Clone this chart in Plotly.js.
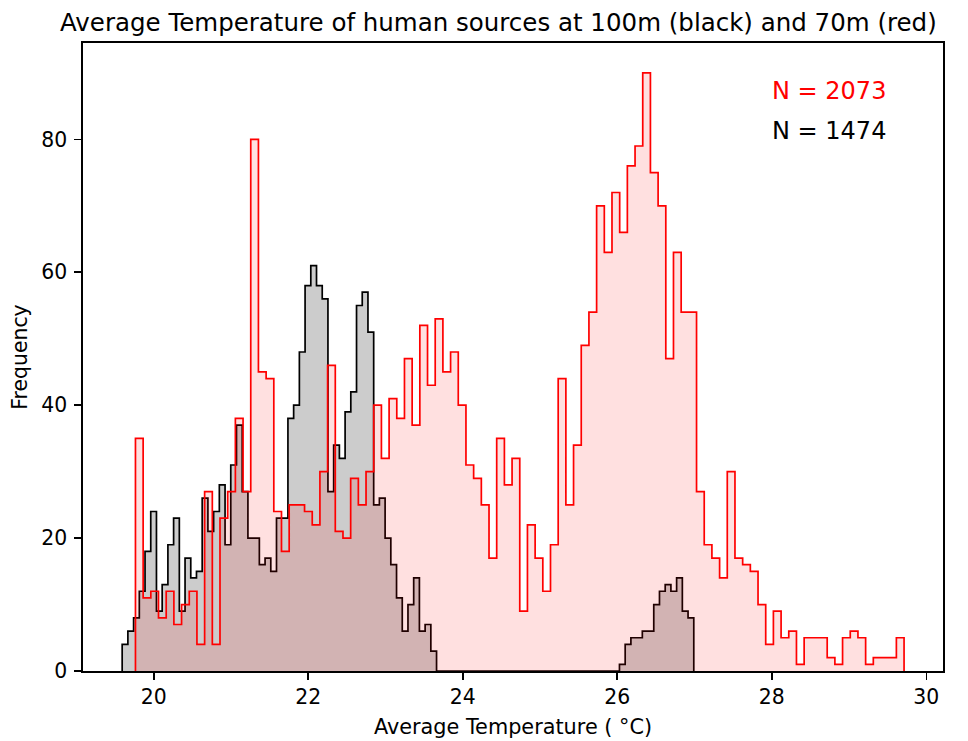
<!DOCTYPE html>
<html><head><meta charset="utf-8">
<script src="https://cdn.plot.ly/plotly-3.0.1.min.js"></script>
<style>html,body{margin:0;padding:0;background:#fff}#chart{width:968px;height:741px}</style>
</head><body><div id="chart"></div>
<script>
// Histogram counts (100 bins each)
const redCounts = [
  35, 11, 12, 8, 12, 7, 10, 12, 4, 27,
  4, 23, 27, 38, 27, 80, 45, 44, 24, 18,
  25, 25, 24, 22, 30, 46, 21, 20, 29, 25,
  30, 40, 32, 41, 38, 47, 37, 52, 43, 53,
  45, 48, 40, 31, 29, 25, 17, 35, 28, 32,
  9, 22, 17, 12, 19, 44, 25, 34, 49, 54,
  70, 63, 72, 66, 76, 79, 90, 75, 70, 47,
  63, 54, 54, 27, 19, 17, 14, 30, 17, 16,
  15, 10, 4, 9, 5, 6, 1, 5, 5, 5,
  2, 1, 5, 6, 5, 1, 2, 2, 2, 5
];
const blackCounts = [
  4, 6, 8, 12, 18, 24, 9, 13, 19, 23,
  9, 17, 14, 15, 26, 21, 24, 28, 19, 31,
  37, 27, 20, 20, 16, 17, 15, 23, 23, 38,
  40, 48, 58, 61, 58, 56, 27, 34, 32, 39,
  42, 55, 57, 51, 25, 26, 20, 16, 11, 6,
  10, 14, 6, 7, 3, 0, 0, 0, 0, 0,
  0, 0, 0, 0, 0, 0, 0, 0, 0, 0,
  0, 0, 0, 0, 0, 0, 0, 0, 0, 0,
  0, 0, 0, 0, 0, 0, 0, 1, 4, 5,
  5, 6, 6, 10, 12, 13, 12, 14, 9, 8
];
// bin range (min, max) of each histogram
const redRange = [19.763, 29.712];
const blackRange = [19.591, 26.990];

const xTicks = [20, 22, 24, 26, 28, 30];
const yTicks = [0, 20, 40, 60, 80];
const titleText = "Average Temperature of human sources at 100m (black) and 70m (red)";
const xLabel = "Average Temperature ( \u00b0C)";
const yLabel = "Frequency";
const redLabel = "N = 2073";
const blackLabel = "N = 1474";

function stepXY(counts, range) {
  const n = counts.length, w = (range[1] - range[0]) / n;
  const xs = [range[0]], ys = [0];
  for (let i = 0; i < n; i++) { xs.push(range[0] + i * w); ys.push(counts[i]); }
  xs.push(range[1]); ys.push(0);
  return {xs, ys};
}

const b = stepXY(blackCounts, blackRange);
const r = stepXY(redCounts, redRange);

const traces = [
  {x: b.xs, y: b.ys, type: 'scatter', mode: 'lines', line: {shape: 'hv', color: '#000000', width: 1.7},
   fill: 'tozeroy', fillcolor: 'rgba(0,0,0,0.2)', hoverinfo: 'skip', showlegend: false},
  {x: r.xs, y: r.ys, type: 'scatter', mode: 'lines', line: {shape: 'hv', color: '#ff0000', width: 1.7},
   fill: 'tozeroy', fillcolor: 'rgba(255,0,0,0.12)', hoverinfo: 'skip', showlegend: false}
];

const font = 'DejaVu Sans, Verdana, sans-serif';
const layout = {
  width: 968, height: 741,
  margin: {l: 83, r: 25, t: 43, b: 70, pad: 0},
  paper_bgcolor: '#ffffff', plot_bgcolor: '#ffffff',
  font: {family: font, color: '#000000', size: 20.4},
  title: {text: titleText, font: {family: font, size: 24.5, color: '#000000'},
          x: 0.483, xref: 'paper', xanchor: 'center', y: 1 - 22 / 741, yref: 'container', yanchor: 'middle'},
  xaxis: {range: [19.084, 30.216], tickvals: xTicks, ticktext: xTicks.map(String),
          ticks: 'outside', ticklen: 7, tickwidth: 1.6, tickcolor: '#000',
          showline: true, linecolor: '#000', linewidth: 1.6, mirror: true,
          showgrid: false, zeroline: false, tickfont: {size: 20.4, family: font},
          ticklabelstandoff: 0,
          title: {text: xLabel, font: {size: 20.8, family: font}, standoff: 11}},
  yaxis: {range: [0, 94.5], tickvals: yTicks, ticktext: yTicks.map(String),
          ticks: 'outside', ticklen: 7, tickwidth: 1.6, tickcolor: '#000',
          showline: true, linecolor: '#000', linewidth: 1.6, mirror: true,
          showgrid: false, zeroline: false, tickfont: {size: 20.4, family: font},
          ticklabelstandoff: 3,
          title: {text: yLabel, font: {size: 20.4, family: font}, standoff: 8}},
  annotations: [
    {x: 28, y: 86, xref: 'x', yref: 'y', text: redLabel, showarrow: false,
     xanchor: 'left', yanchor: 'bottom', yshift: -8, xshift: -2,
     font: {family: font, size: 24, color: '#ff0000'}},
    {x: 28, y: 80, xref: 'x', yref: 'y', text: blackLabel, showarrow: false,
     xanchor: 'left', yanchor: 'bottom', yshift: -8, xshift: -2,
     font: {family: font, size: 24, color: '#000000'}}
  ]
};

Plotly.newPlot('chart', traces, layout, {displayModeBar: false, staticPlot: true});
</script>
</body></html>
